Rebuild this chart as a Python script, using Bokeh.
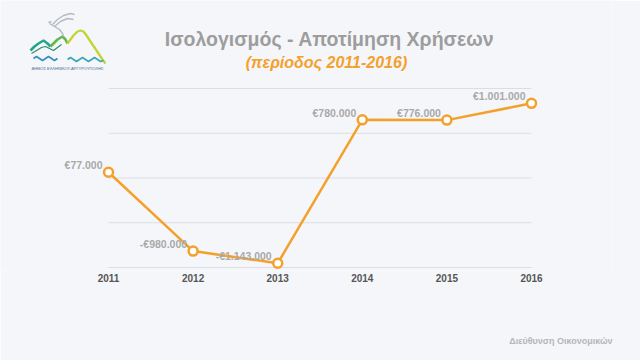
from bokeh.plotting import figure
from bokeh.models import Range1d, FixedTicker, ColumnDataSource, Title
from bokeh.embed import file_html
from bokeh.resources import INLINE
from bokeh.core.properties import value

# ---- data ----
years = [2011, 2012, 2013, 2014, 2015, 2016]
values = [77000, -980000, -1143000, 780000, 776000, 1001000]
year_labels = ["2011", "2012", "2013", "2014", "2015", "2016"]
y_ticks = [-1200000, -600000, 0, 600000, 1200000]

title_text = "Ισολογισμός - Αποτίμηση Χρήσεων"
subtitle_text = "(περίοδος 2011-2016)"
footer_text = "Διεύθυνση Οικονομικών"
logo_text = "ΔΗΜΟΣ ΕΛΛΗΝΙΚΟΥ-ΑΡΓΥΡΟΥΠΟΛΗΣ"

# ---- logo decoration (canvas pixel coordinates) ----
logo_m1_x = [30, 34, 38, 43, 47, 50]
logo_m1_y = [50, 46, 43, 40, 43, 46]
logo_m2_x = [50, 53, 57, 62, 65, 67]
logo_m2_y = [46, 43, 39, 36, 39, 43]
logo_m3_x = [67, 70, 73, 77, 80, 83, 86, 90, 94, 98, 102, 105]
logo_m3_y = [43, 39, 35, 31, 30, 31, 35, 41, 47, 53, 59, 63]
logo_low_x = [31, 36, 41, 45, 49, 53, 57, 61]
logo_low_y = [53, 50, 47, 46, 48, 50, 47, 44]
logo_w1_x = [33, 36, 39, 42, 45, 48, 51, 54, 57]
logo_w1_y = [58, 56, 58, 60, 58, 56, 58, 60, 58]
logo_w2_x = [67, 70, 73, 76, 79, 82, 85, 88, 91, 94, 97, 100, 103]
logo_w2_y = [59, 57, 59, 61, 59, 57, 59, 61, 59, 57, 59, 61, 60]
logo_dove_xs = [[52, 57, 63, 70, 74], [54, 60, 67, 73], [49, 54, 59, 62, 63], [48, 51]]
logo_dove_ys = [[24, 19, 15, 13, 14], [26, 21, 18, 19], [23, 26, 29, 33, 36], [22, 21]]

BG = "#f5f6fa"
ORANGE = "#f3a12b"
FONT = "Liberation Sans"
W, H = 640, 360

# ---- layout constants (pixels) ----
FRAME_BOTTOM = 270          # bottom of the frame (x axis sits below it)
FRAME_RIGHT = 612           # right edge of the frame (footer is right-aligned to it)
GRID_TOP, GRID_BOTTOM = 88, 267
X_LEFT, X_RIGHT = 108, 531  # pixel positions of first / last year


def euro(v):
    s = f"{abs(v):,}".replace(",", ".")
    return ("-€" if v < 0 else "€") + s


xpp = (years[-1] - years[0]) / (X_RIGHT - X_LEFT)
ypp = (y_ticks[-1] - y_ticks[0]) / (GRID_BOTTOM - GRID_TOP)
x_range = Range1d(years[0] - X_LEFT * xpp, years[-1] + (FRAME_RIGHT - X_RIGHT) * xpp)
y_range = Range1d(y_ticks[0] - (FRAME_BOTTOM - GRID_BOTTOM) * ypp,
                  y_ticks[-1] + GRID_TOP * ypp)

p = figure(width=W, height=H, x_range=x_range, y_range=y_range,
           toolbar_location=None, output_backend="svg",
           min_border_left=0, min_border_right=W - FRAME_RIGHT, min_border_top=0,
           min_border_bottom=H - FRAME_BOTTOM, outline_line_color=None,
           background_fill_color=BG, border_fill_color=BG)
p.extra_x_ranges = {"px": Range1d(0, FRAME_RIGHT)}
p.extra_y_ranges = {"py": Range1d(FRAME_BOTTOM, 0)}
p.yaxis.visible = False
p.xgrid.visible = False
p.ygrid.visible = False

ax = p.xaxis[0]
ax.ticker = FixedTicker(ticks=years)
ax.major_label_overrides = {y: l for y, l in zip(years, year_labels)}
ax.axis_line_color = None
ax.major_tick_line_color = None
ax.minor_tick_line_color = None
ax.major_tick_out = 0
ax.major_tick_in = 0
ax.major_label_standoff = 3
ax.major_label_text_font = FONT
ax.major_label_text_font_size = "10px"
ax.major_label_text_font_style = "bold"
ax.major_label_text_color = "#555555"
# blank axis label used only as vertical spacing before the footer
ax.axis_label = " "
ax.axis_label_standoff = 35
ax.axis_label_text_font_size = "9px"

# horizontal grid lines spanning the year range only
p.segment(x0=[years[0]] * len(y_ticks), x1=[years[-1]] * len(y_ticks),
          y0=y_ticks, y1=y_ticks, line_color="#dcdde4", line_width=1)

# ---- header: logo + titles ----
hdr = dict(x_range_name="px", y_range_name="py")
p.line(logo_low_x, logo_low_y, line_color="#2a8f6a", line_width=1.2, **hdr)
p.line(logo_m1_x, logo_m1_y, line_color="#25a58e", line_width=2.6, **hdr)
p.line(logo_m2_x, logo_m2_y, line_color="#62b947", line_width=2.6, **hdr)
p.line(logo_m3_x, logo_m3_y, line_color="#c4d432", line_width=2.3, **hdr)
p.line(logo_w1_x, logo_w1_y, line_color="#2f8fc4", line_width=1.6, **hdr)
p.line(logo_w2_x, logo_w2_y, line_color="#38a6b9", line_width=1.6, **hdr)
p.multi_line(logo_dove_xs, logo_dove_ys, line_color="#b5b9c1", line_width=1.4, **hdr)
p.text(x=[67], y=[68], text=[logo_text], text_font=value(FONT), text_font_size="4px",
       text_color="#3d6a91", text_align="center", text_baseline="middle", **hdr)
p.text(x=[329], y=[38], text=[title_text], text_font=value(FONT), text_font_size="19.5px",
       text_font_style="bold", text_color="#9d9d9d", text_align="center",
       text_baseline="middle", **hdr)
p.text(x=[326], y=[62], text=[subtitle_text], text_font=value(FONT),
       text_font_size="16px", text_font_style="bold italic", text_color=ORANGE,
       text_align="center", text_baseline="middle", **hdr)

# ---- series ----
src = ColumnDataSource(dict(x=years, y=values, label=[euro(v) for v in values]))
p.line("x", "y", source=src, line_color=ORANGE, line_width=2.5)
p.scatter("x", "y", source=src, size=9, marker="circle", fill_color="#ffffff",
          line_color=ORANGE, line_width=2.5)
p.text("x", "y", text="label", source=src, x_offset=-6, y_offset=-7,
       text_align="right", text_baseline="alphabetic", text_font=value(FONT),
       text_font_size="10.5px", text_font_style="bold", text_color="#a9a9a9",
       level="overlay")

# ---- footer ----
footer = Title(text=footer_text, align="right", offset=0, standoff=2,
               text_font=FONT, text_font_size="9px", text_font_style="bold",
               text_color="#b5b5b5")
p.add_layout(footer, "below")

open("out.html", "w").write(file_html(p, INLINE))
